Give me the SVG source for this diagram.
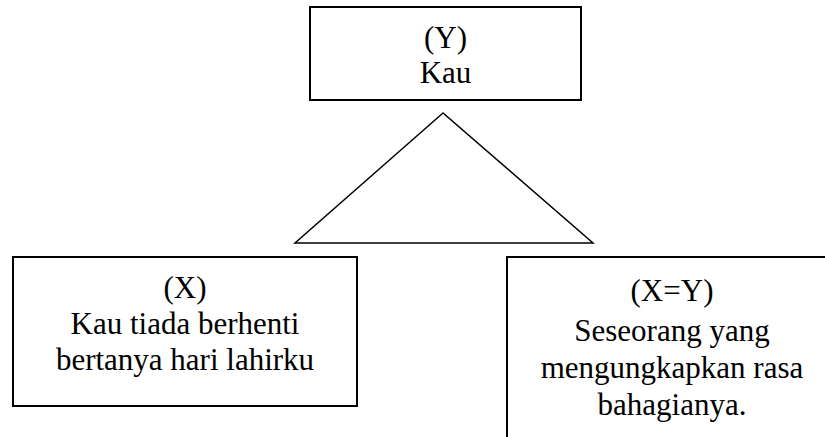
<svg xmlns="http://www.w3.org/2000/svg" width="825" height="437" viewBox="0 0 825 437">
  <style>
    .box { fill: #ffffff; stroke: #000000; stroke-width: 2; }
    .tri { fill: none; stroke: #000000; stroke-width: 1.5; stroke-linejoin: miter; }
    .lbl { font-family: "Liberation Serif", "Times New Roman", serif; font-size: 31px; fill: #000000; text-anchor: middle; }
  </style>
  <rect x="0" y="0" width="825" height="437" fill="#ffffff"/>

  <g id="node-y">
    <rect class="box" x="310" y="7" width="271" height="93"/>
    <text class="lbl" x="445.5" y="48">(Y)</text>
    <text class="lbl" x="445.5" y="83">Kau</text>
  </g>

  <g id="connectors">
    <polygon class="tri" points="443,113 295,243 593,243"/>
  </g>

  <g id="node-x">
    <rect class="box" x="13" y="257" width="344" height="149"/>
    <text class="lbl" x="185" y="298">(X)</text>
    <text class="lbl" x="185" y="334">Kau tiada berhenti</text>
    <text class="lbl" x="185" y="370">bertanya hari lahirku</text>
  </g>

  <g id="node-xy">
    <rect class="box" x="507" y="257" width="400" height="300"/>
    <text class="lbl" x="672" y="301">(X=Y)</text>
    <text class="lbl" x="672" y="341">Seseorang yang</text>
    <text class="lbl" x="672" y="378">mengungkapkan rasa</text>
    <text class="lbl" x="672" y="415">bahagianya.</text>
  </g>
</svg>
